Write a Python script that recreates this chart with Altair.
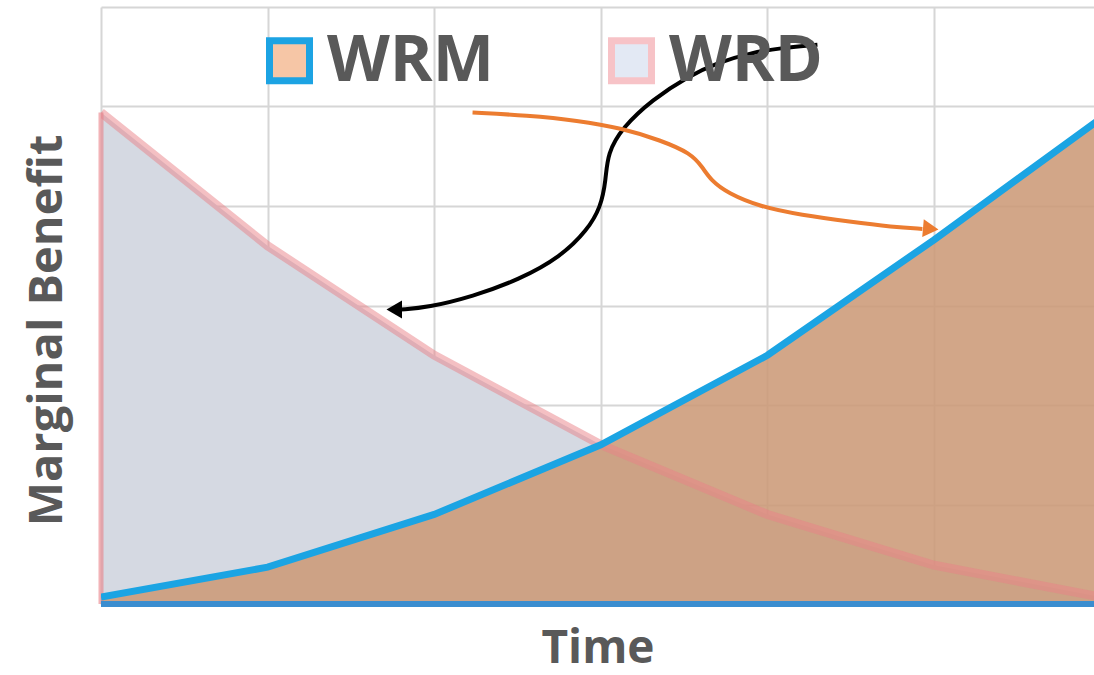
import altair as alt
import pandas as pd

# ---- data ----
time = [0, 1, 2, 3, 4, 5, 6]
wrm = [0.07, 0.37, 0.90, 1.60, 2.50, 3.66, 4.88]
wrd = [4.94, 3.60, 2.50, 1.60, 0.90, 0.39, 0.07]

series = ["WRM", "WRD"]

# curved annotation arrows (data coordinates)
black_t = [4.30, 4.09, 3.90, 3.70, 3.52, 3.31, 3.13, 3.04, 3.03, 3.00, 2.92, 2.76, 2.51, 2.23, 1.96, 1.80]
black_v = [5.62, 5.59, 5.54, 5.44, 5.30, 5.07, 4.79, 4.53, 4.26, 3.99, 3.76, 3.49, 3.26, 3.09, 2.98, 2.96]
black_head = (1.76, 2.96)

orange_t = [2.23, 2.56, 2.86, 3.13, 3.36, 3.54, 3.61, 3.66, 3.76, 3.96, 4.20, 4.50, 4.75, 4.93]
orange_v = [4.94, 4.91, 4.86, 4.78, 4.66, 4.53, 4.39, 4.26, 4.13, 3.99, 3.91, 3.84, 3.79, 3.77]
orange_head = (4.98, 3.77)

# ---- frames ----
df_wrm = pd.DataFrame({"t": time, "v": wrm})
df_wrd = pd.DataFrame({"t": time, "v": wrd})
df_black = pd.DataFrame({"t": black_t, "v": black_v, "o": range(len(black_t))})
df_orange = pd.DataFrame({"t": orange_t, "v": orange_v, "o": range(len(orange_t))})
df_bhead = pd.DataFrame({"t": [black_head[0]], "v": [black_head[1]]})
df_ohead = pd.DataFrame({"t": [orange_head[0]], "v": [orange_head[1]]})
df_leg = pd.DataFrame({"series": series, "t": [-5, -5], "v": [0, 0]})
df_left = pd.DataFrame({"t": [time[0]], "v0": [0], "v1": [wrd[0]]})

FONT = "Open Sans"
GREY = "#595959"
GRID = "#d6d6d6"

x_enc = alt.X(
    "t:Q",
    scale=alt.Scale(domain=[0, 5.96], nice=False, zero=False),
    axis=alt.Axis(values=[0, 1, 2, 3, 4, 5], labels=False, ticks=False, domain=False,
                  grid=True, gridColor=GRID, gridWidth=2,
                  title="Time", titleFont=FONT, titleFontSize=46, titleFontWeight="bold",
                  titleColor=GREY, titlePadding=22),
)
y_enc = alt.Y(
    "v:Q",
    scale=alt.Scale(domain=[0, 6], nice=False),
    axis=alt.Axis(values=[0, 1, 2, 3, 4, 5, 6], labels=False, ticks=False, domain=False,
                  grid=True, gridColor=GRID, gridWidth=2,
                  title="Marginal Benefit", titleFont=FONT, titleFontSize=47,
                  titleFontWeight="bold", titleColor=GREY, titlePadding=30, titleY=323),
)

wrd_area = alt.Chart(df_wrd).mark_area(color="#d5d9e2", opacity=1, clip=True).encode(x=x_enc, y=y_enc)
wrm_area = alt.Chart(df_wrm).mark_area(color="#cc9a78", opacity=0.88, clip=True).encode(x=x_enc, y=y_enc)
wrd_line = alt.Chart(df_wrd).mark_line(color="#e98187", opacity=0.5, strokeWidth=9, clip=True).encode(x=x_enc, y=y_enc)
left_rule = alt.Chart(df_left).mark_rule(color="#e98187", opacity=0.6, strokeWidth=5).encode(
    x=alt.X("t:Q"), y=alt.Y("v0:Q"), y2="v1:Q")
wrm_line = alt.Chart(df_wrm).mark_line(color="#1ba4e3", strokeWidth=7, clip=True).encode(x=x_enc, y=y_enc)
bottom_rule = alt.Chart(df_wrm).mark_rule(color="#3b8dcf", strokeWidth=5).encode(y=alt.datum(0))

black_arrow = alt.Chart(df_black).mark_line(color="#000000", strokeWidth=4, interpolate="basis").encode(
    x=x_enc, y=y_enc, order="o:Q")
orange_arrow = alt.Chart(df_orange).mark_line(color="#ec7c30", strokeWidth=4, interpolate="basis").encode(
    x=x_enc, y=y_enc, order="o:Q")
black_tip = alt.Chart(df_bhead).mark_point(shape="triangle-left", filled=True, color="#000000",
                                           size=320, opacity=1).encode(x=x_enc, y=y_enc)
orange_tip = alt.Chart(df_ohead).mark_point(shape="triangle-right", filled=True, color="#ec7c30",
                                            size=320, opacity=1, angle=5).encode(x=x_enc, y=y_enc)

leg = alt.Legend(orient="none", legendX=156, legendY=21, direction="horizontal", title=None)
legend_layer = alt.Chart(df_leg).mark_point(shape="square", filled=True, opacity=1, strokeWidth=7,
                                            clip=True).encode(
    x=x_enc, y=y_enc,
    fill=alt.Fill("series:N", scale=alt.Scale(domain=series, range=["#f6c6a6", "#e3e9f4"]), legend=leg),
    stroke=alt.Stroke("series:N", scale=alt.Scale(domain=series, range=["#1ca3e3", "#f7c3c7"]), legend=leg),
)

chart = alt.layer(
    wrd_area, wrm_area, wrd_line, left_rule, wrm_line, bottom_rule,
    black_arrow, orange_arrow, black_tip, orange_tip, legend_layer,
).properties(
    width=993, height=597,
    autosize=alt.AutoSizeParams(type="none"),
    padding={"left": 101, "top": 7, "right": 0, "bottom": 71},
).configure_view(strokeWidth=0).configure_legend(
    symbolType="square", symbolSize=1600, symbolStrokeWidth=7,
    labelFont=FONT, labelFontSize=65, labelFontWeight="bold", labelColor=GREY,
    labelOffset=5, columnPadding=102, padding=0, labelLimit=0,
)

chart.save("out.html", embed_options={"renderer": "svg", "actions": False})
